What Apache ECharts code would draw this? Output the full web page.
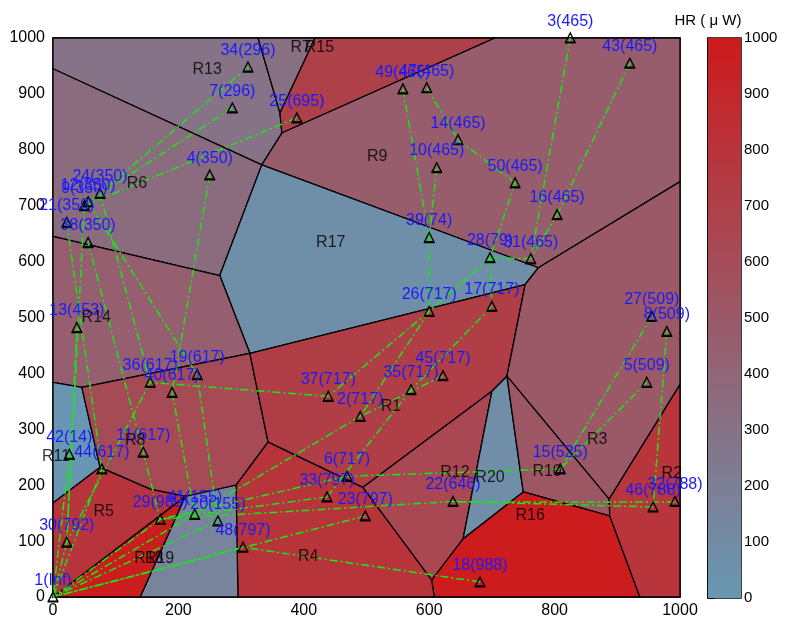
<!DOCTYPE html>
<html>
<head>
<meta charset="utf-8">
<script src="https://cdn.jsdelivr.net/npm/echarts@6/dist/echarts.min.js"></script>
<style>
  html, body { margin: 0; padding: 0; background: #fff; }
  #chart { width: 785px; height: 619px; }
</style>
</head>
<body>
<div id="chart"></div>
<script>
// ---- sensor nodes: id, position (m) and harvested power HR (uW) ----
const nodeIds = [1,2,3,4,5,6,7,8,9,10,11,12,13,14,15,16,17,18,19,20,21,22,23,24,25,26,27,28,29,30,31,32,33,34,35,36,37,38,39,40,41,42,43,44,45,46,47,48,49,50];
const nodeX  = [0,490,825,250,947,469,286,979,50,612,144,56,38,646,809,804,700,681,230,263,22,638,498,75,389,600,955,697,171,22,762,992,437,311,571,155,439,56,600,190,226,26,920,78,622,957,596,303,558,737];
const nodeY  = [0,323,1000,755,384,216,875,475,700,768,259,707,482,818,229,684,520,27,398,136,670,171,145,722,857,511,502,607,139,98,605,171,179,948,371,384,359,634,643,366,148,255,955,229,396,161,911,89,909,741];
const nodeHR = ['Inf',717,465,350,509,717,296,509,350,465,617,350,453,465,525,465,717,988,617,155,350,646,797,350,695,717,509,79,985,792,465,788,797,296,717,617,717,350,74,617,155,14,465,617,717,788,465,797,465,465];

// ---- forwarding links between nodes (source id -> next hop id) ----
const linkFrom = [3,43,16,31,50,14,47,49,10,39,28,28,17,26,26,45,35,37,2,6,33,23,22,46,32,8,27,5,15,18,48,20,41,29,34,7,25,4,24,21,38,12,9,13,36,40,19,11,44,30,42];
const linkTo   = [31,16,31,28,28,50,14,39,39,26,26,17,35,37,2,2,33,36,41,29,29,1,29,22,22,46,15,15,6,48,1,1,1,1,24,12,9,40,36,44,11,19,30,30,30,41,20,29,1,1,1];

// ---- Voronoi regions: name, HR value and polygon vertices (m) ----
const regionNames  = ['R13','R15','R7','R9','R6','R17','R14','R11','R8','R1','R3','R12','R20','R10','R16','R2','R4','R19','R18','R5'];
const regionValues = [296,320,695,465,350,74,453,14,617,717,509,646,80,525,988,788,797,155,985,792];
const regionPolygons = [
  [[0,1000],[327,1000],[362,866],[365,830],[333,773],[0,945]],
  [[327,1000],[418,1000],[362,866]],
  [[418,1000],[705,1000],[365,830],[362,866]],
  [[705,1000],[1000,1000],[1000,743],[774,589],[333,773],[365,830]],
  [[0,945],[333,773],[266,575],[0,645]],
  [[333,773],[774,589],[753,559],[314,436],[266,575]],
  [[0,645],[266,575],[314,436],[46,375],[0,384]],
  [[0,384],[46,375],[75,232],[0,168]],
  [[46,375],[314,436],[343,277],[292,200],[230,184],[211,180],[155,193],[75,232]],
  [[314,436],[753,559],[724,395],[700,368],[494,196],[343,277]],
  [[774,589],[1000,743],[1000,380],[887,175],[724,395],[753,559]],
  [[494,196],[700,368],[654,104],[604,30]],
  [[724,395],[750,188],[654,104],[700,368]],
  [[724,395],[887,175],[888,145],[750,188]],
  [[750,188],[888,145],[936,0],[608,0],[604,30],[654,104]],
  [[887,175],[1000,380],[1000,0],[936,0],[888,145]],
  [[343,277],[494,196],[604,30],[608,0],[295,0],[292,200]],
  [[292,200],[295,0],[139,0],[211,180]],
  [[0,0],[211,180],[139,0]],
  [[0,168],[75,232],[155,193],[211,180],[0,0]]
];
// region name tags (m)
const tagNames = ['R13','R7','R15','R9','R6','R17','R14','R11','R8','R1','R3','R12','R20','R10','R16','R2','R4','R18','R19','R5'];
const tagX = [246,395,425,517,134,443,69,5,131,539,868,641,697,788,761,987,407,153,170,81];
const tagY = [943,982,982,788,739,634,500,252,279,341,282,223,214,225,145,220,73,68,68,152];

// colour scale and ticks
const hrMin = 0, hrMax = 1000;
const colorLow = '#6898b4', colorHigh = '#cd1a1c';
const xTicks = { min: 0, max: 1000, interval: 200 };
const yTicks = { min: 0, max: 1000, interval: 100 };
const barTicks = { min: 0, max: 1000, interval: 100 };

const FONT = 'Liberation Sans, Arial, sans-serif';
const plain = v => String(v);
const chart = echarts.init(document.getElementById('chart'), null, { renderer: 'canvas' });

const graphNodes = nodeIds.map((id, i) => ({
  name: 'n' + id,
  value: [nodeX[i], nodeY[i]],
  label: { formatter: id + '(' + nodeHR[i] + ')' }
}));
const graphLinks = linkFrom.map((s, i) => ({ source: 'n' + s, target: 'n' + linkTo[i] }));

const option = {
  animation: false,
  backgroundColor: '#fff',
  textStyle: { fontFamily: FONT },
  grid: [
    { left: 53, top: 38, width: 627, height: 560, show: true, borderColor: '#000', borderWidth: 1.5, backgroundColor: 'transparent' },
    { left: 708, top: 38, width: 33, height: 560, show: true, borderColor: '#000', borderWidth: 1.5, backgroundColor: 'transparent' }
  ],
  xAxis: [
    { gridIndex: 0, type: 'value', min: xTicks.min, max: xTicks.max, interval: xTicks.interval,
      axisLine: { show: false }, axisTick: { show: false }, splitLine: { show: false },
      axisLabel: { color: '#000', fontSize: 16, fontFamily: FONT, margin: 6, formatter: plain } },
    { gridIndex: 1, type: 'value', min: 0, max: 1, show: false }
  ],
  yAxis: [
    { gridIndex: 0, type: 'value', min: yTicks.min, max: yTicks.max, interval: yTicks.interval,
      axisLine: { show: false }, axisTick: { show: false }, splitLine: { show: false },
      axisLabel: { color: '#000', fontSize: 16, fontFamily: FONT, margin: 8, formatter: plain } },
    { gridIndex: 1, type: 'value', position: 'right', min: barTicks.min, max: barTicks.max, interval: barTicks.interval,
      name: 'HR ( μ W)', nameLocation: 'end', nameGap: 10,
      nameTextStyle: { color: '#000', fontSize: 15, fontFamily: FONT },
      axisLine: { show: true, lineStyle: { color: '#000', width: 1.5 } },
      axisTick: { show: true, length: 6, lineStyle: { color: '#000' } },
      splitLine: { show: false },
      axisLabel: { color: '#000', fontSize: 15, fontFamily: FONT, margin: 3, formatter: plain } },
    { gridIndex: 1, type: 'value', position: 'left', min: barTicks.min, max: barTicks.max, interval: barTicks.interval,
      axisLine: { show: false }, axisTick: { show: true, inside: true, length: 4, lineStyle: { color: '#000' } },
      axisLabel: { show: false }, splitLine: { show: false } }
  ],
  visualMap: {
    show: false, type: 'continuous', seriesIndex: 0, dimension: 0,
    min: hrMin, max: hrMax, inRange: { color: [colorLow, colorHigh] }
  },
  series: [
    {
      type: 'custom', name: 'regions', xAxisIndex: 0, yAxisIndex: 0, silent: true, z: 1,
      data: regionValues.map((v, i) => [v, i]),
      renderItem: function (params, api) {
        const idx = api.value(1);
        const pts = regionPolygons[idx].map(p => api.coord(p));
        return {
          type: 'polygon',
          shape: { points: pts },
          style: { fill: api.visual('color'), stroke: '#000', lineWidth: 1.3 }
        };
      }
    },
    {
      type: 'graph', name: 'links', coordinateSystem: 'cartesian2d', xAxisIndex: 0, yAxisIndex: 0,
      silent: true, z: 3,
      symbol: 'path://M5 0 L10 9 L0 9 Z M-1 10 L11 10',
      symbolSize: [11, 10],
      itemStyle: { color: 'rgba(0,0,0,0)', borderColor: '#000', borderWidth: 1.3 },
      lineStyle: { color: '#19e619', width: 1.5, opacity: 1, type: [8, 3, 2, 3], curveness: 0 },
      label: { show: true, position: 'top', distance: 3, color: '#1a1aff', fontSize: 16, fontFamily: FONT },
      data: graphNodes,
      links: graphLinks
    },
    {
      type: 'scatter', name: 'tags', xAxisIndex: 0, yAxisIndex: 0, silent: true, z: 4,
      symbolSize: 0,
      data: tagNames.map((n, i) => ({ name: n, value: [tagX[i], tagY[i]] })),
      label: { show: true, position: 'inside', formatter: '{b}', color: '#000', fontSize: 16, fontFamily: FONT }
    },
    {
      type: 'custom', name: 'colorbar', xAxisIndex: 1, yAxisIndex: 1, silent: true, z: 1,
      data: [[0, hrMin, 1, hrMax]],
      renderItem: function (params, api) {
        const a = api.coord([api.value(0), api.value(1)]);
        const b = api.coord([api.value(2), api.value(3)]);
        return {
          type: 'rect',
          shape: { x: a[0], y: b[1], width: b[0] - a[0], height: a[1] - b[1] },
          style: {
            fill: new echarts.graphic.LinearGradient(0, 0, 0, 1, [
              { offset: 0, color: colorHigh }, { offset: 1, color: colorLow }
            ])
          }
        };
      }
    }
  ]
};
chart.setOption(option);
</script>
</body>
</html>
